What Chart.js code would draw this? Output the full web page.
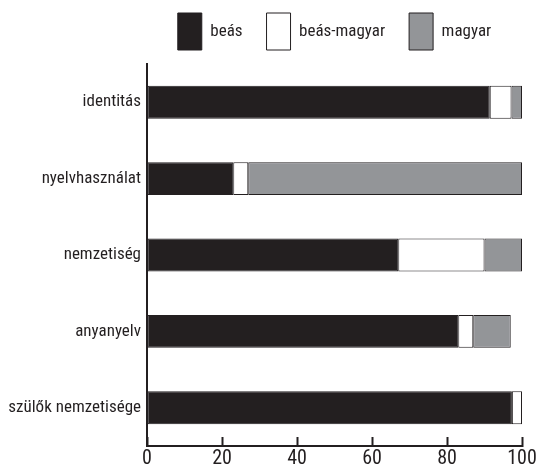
<!DOCTYPE html>
<html lang="hu">
<head>
    <meta charset="utf-8">
    <title>beás / magyar</title>
    <script src="https://cdn.jsdelivr.net/npm/chart.js"></script>
    <style>
        html, body { margin: 0; padding: 0; background: #fff; }
        #wrap { width: 536px; height: 468px; }
    </style>
</head>
<body>
    <div id="wrap"><canvas id="chart"></canvas></div>
    <script>
        // categories, top to bottom
        const categories = ['identitás', 'nyelvhasználat', 'nemzetiség', 'anyanyelv', 'szülők nemzetisége'];
        const seriesNames = ['beás', 'beás-magyar', 'magyar'];
        // percentages
        const beas = [91.4, 23, 67, 83, 97.3];
        const beasMagyar = [5.8, 4, 23, 4, 2.7];
        const magyar = [2.8, 73, 10, 10, null];
        const xTicks = [0, 20, 40, 60, 80, 100];

        const ink = '#231f20';

        Chart.defaults.font.family = "'Roboto Condensed', 'DejaVu Sans Condensed', sans-serif";
        Chart.defaults.color = ink;

        function bar(label, data, fill) {
            return {
                label: label,
                data: data,
                backgroundColor: fill,
                borderColor: ink,
                borderWidth: 1,
                borderSkipped: false,
                barPercentage: 0.43,
                categoryPercentage: 1
            };
        }

        new Chart(document.getElementById('chart'), {
            type: 'bar',
            data: {
                labels: categories,
                datasets: [
                    bar(seriesNames[0], beas, ink),
                    bar(seriesNames[1], beasMagyar, '#ffffff'),
                    bar(seriesNames[2], magyar, '#939598')
                ]
            },
            options: {
                indexAxis: 'y',
                responsive: true,
                maintainAspectRatio: false,
                animation: false,
                layout: { padding: { top: -11, right: 0, left: 0, bottom: 0 } },
                plugins: {
                    tooltip: { enabled: false },
                    legend: {
                        position: 'top',
                        fullSize: false,
                        labels: {
                            boxWidth: 24,
                            boxHeight: 37,
                            padding: 24,
                            color: ink,
                            font: { size: 17 }
                        }
                    },
                    // empty spacer between legend and plot
                    title: {
                        display: true,
                        text: '',
                        position: 'top',
                        weight: 10,
                        fullSize: false,
                        padding: 0,
                        font: { size: 4, lineHeight: 1 }
                    }
                },
                scales: {
                    x: {
                        stacked: true,
                        min: 0,
                        max: 100,
                        afterBuildTicks: scale => {
                            scale.ticks = xTicks.map(v => ({ value: v }));
                        },
                        afterFit: scale => {
                            scale.height = 22;
                            scale.paddingLeft = 0;
                            scale.paddingRight = 14;
                        },
                        grid: {
                            drawOnChartArea: false,
                            drawTicks: true,
                            tickLength: -9,
                            color: ink,
                            tickWidth: 2
                        },
                        border: { display: true, color: ink, width: 2 },
                        ticks: {
                            padding: 12,
                            color: ink,
                            font: { size: 20, lineHeight: 1 }
                        }
                    },
                    y: {
                        stacked: true,
                        afterFit: scale => { scale.width = 147; },
                        grid: { display: false, drawTicks: false },
                        border: { display: true, color: ink, width: 2 },
                        ticks: {
                            padding: 6,
                            color: ink,
                            font: { size: 17 }
                        }
                    }
                }
            }
        });
    </script>
</body>
</html>
